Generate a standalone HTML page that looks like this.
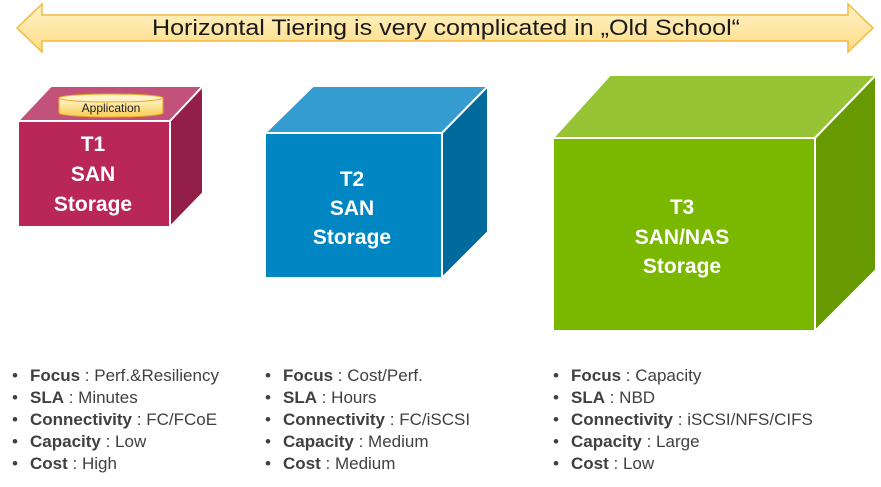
<!DOCTYPE html>
<html><head><meta charset="utf-8"><style>html,body{margin:0;padding:0;background:#fff}svg{display:block}</style></head>
<body>
<svg width="881" height="487" viewBox="0 0 881 487" xmlns="http://www.w3.org/2000/svg" font-family="Liberation Sans, sans-serif">
<defs>
<linearGradient id="ag" x1="0" y1="0" x2="0" y2="1"><stop offset="0" stop-color="#fff3c8"/><stop offset="1" stop-color="#fddc86"/></linearGradient>
<linearGradient id="cg" x1="0" y1="0" x2="0" y2="1"><stop offset="0" stop-color="#fff6cc"/><stop offset="1" stop-color="#fbd368"/></linearGradient>
</defs>
<polygon points="17,28 42,4 42,15 848,15 848,4 873,28 848,52 848,41 42,41 42,52" fill="url(#ag)" stroke="#f4b93a" stroke-width="1.5"/>
<text x="446" y="35" text-anchor="middle" font-size="22" fill="#1a1a1a" textLength="588" lengthAdjust="spacingAndGlyphs">Horizontal Tiering is very complicated in „Old School“</text>

<!-- T1 -->
<g stroke="#fff" stroke-width="2" stroke-linejoin="round">
<polygon points="18,121 51,86 203,86 170,121" fill="#c2527a"/>
<polygon points="170,121 203,86 203,193 170,227" fill="#931f48"/>
<rect x="18" y="121" width="152" height="106" fill="#b82758"/>
</g>
<g>
<rect x="59" y="98" width="104" height="15" fill="url(#cg)" stroke="#e8a820" stroke-width="1"/>
<ellipse cx="111" cy="113" rx="52" ry="4" fill="#fbd368" stroke="#e8a820"/>
<rect x="60" y="99" width="102" height="14" fill="url(#cg)"/>
<ellipse cx="111" cy="98" rx="52" ry="4" fill="#fff3c8" stroke="#e8a820"/>
<text x="111" y="112" text-anchor="middle" font-size="12" fill="#222">Application</text>
</g>
<g fill="#fff" font-weight="bold" font-size="21" text-anchor="middle">
<text x="93" y="151">T1</text><text x="93" y="181">SAN</text><text x="93" y="211">Storage</text>
</g>

<!-- T2 -->
<g stroke="#fff" stroke-width="2" stroke-linejoin="round">
<polygon points="265,133 313,86 488,86 442,133" fill="#349ccf"/>
<polygon points="442,133 488,86 488,232 442,278" fill="#006a9c"/>
<rect x="265" y="133" width="177" height="145" fill="#0086c3"/>
</g>
<g fill="#fff" font-weight="bold" font-size="21" text-anchor="middle">
<text x="352" y="186">T2</text><text x="352" y="215">SAN</text><text x="352" y="244">Storage</text>
</g>

<!-- T3 -->
<g stroke="#fff" stroke-width="2" stroke-linejoin="round">
<polygon points="553,138 610,75 876,75 815,138" fill="#96c434"/>
<polygon points="815,138 876,75 876,270 815,331" fill="#669a00"/>
<rect x="553" y="138" width="262" height="193" fill="#7ab800"/>
</g>
<g fill="#fff" font-weight="bold" font-size="21" text-anchor="middle">
<text x="682" y="214">T3</text><text x="682" y="244">SAN/NAS</text><text x="682" y="273">Storage</text>
</g>

<g font-size="17" fill="#404040">
<g transform="translate(12,0)">
<text y="381"><tspan>•</tspan><tspan x="18" font-weight="bold">Focus</tspan> : Perf.&amp;Resiliency</text>
<text y="403"><tspan>•</tspan><tspan x="18" font-weight="bold">SLA</tspan> : Minutes</text>
<text y="425"><tspan>•</tspan><tspan x="18" font-weight="bold">Connectivity</tspan> : FC/FCoE</text>
<text y="447"><tspan>•</tspan><tspan x="18" font-weight="bold">Capacity</tspan> : Low</text>
<text y="469"><tspan>•</tspan><tspan x="18" font-weight="bold">Cost</tspan> : High</text>
</g>
<g transform="translate(265,0)">
<text y="381"><tspan>•</tspan><tspan x="18" font-weight="bold">Focus</tspan> : Cost/Perf.</text>
<text y="403"><tspan>•</tspan><tspan x="18" font-weight="bold">SLA</tspan> : Hours</text>
<text y="425"><tspan>•</tspan><tspan x="18" font-weight="bold">Connectivity</tspan> : FC/iSCSI</text>
<text y="447"><tspan>•</tspan><tspan x="18" font-weight="bold">Capacity</tspan> : Medium</text>
<text y="469"><tspan>•</tspan><tspan x="18" font-weight="bold">Cost</tspan> : Medium</text>
</g>
<g transform="translate(553,0)">
<text y="381"><tspan>•</tspan><tspan x="18" font-weight="bold">Focus</tspan> : Capacity</text>
<text y="403"><tspan>•</tspan><tspan x="18" font-weight="bold">SLA</tspan> : NBD</text>
<text y="425"><tspan>•</tspan><tspan x="18" font-weight="bold">Connectivity</tspan> : iSCSI/NFS/CIFS</text>
<text y="447"><tspan>•</tspan><tspan x="18" font-weight="bold">Capacity</tspan> : Large</text>
<text y="469"><tspan>•</tspan><tspan x="18" font-weight="bold">Cost</tspan> : Low</text>
</g>
</g>
</svg>
</body></html>
